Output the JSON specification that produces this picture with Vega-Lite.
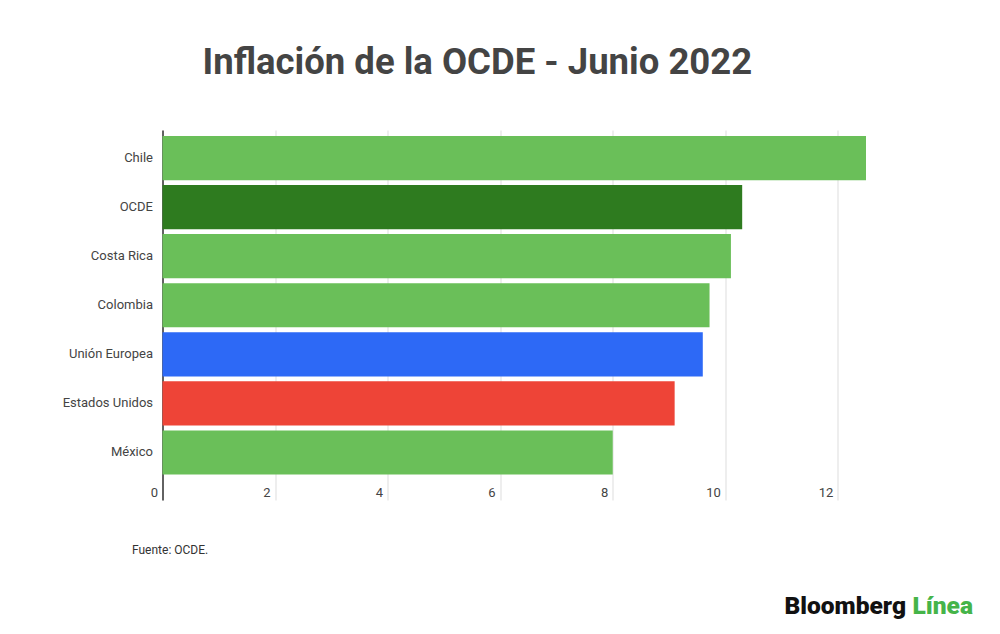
{
  "$schema": "https://vega.github.io/schema/vega-lite/v6.json",
  "width": 703.5,
  "height": 370,
  "autosize": {"type": "none"},
  "padding": {"left": 162.5, "top": 130, "right": 134, "bottom": 134},
  "background": "white",
  "config": {"view": {"stroke": null}, "font": "Roboto"},
  "title": {
    "text": "Inflación de la OCDE - Junio 2022",
    "anchor": "start",
    "frame": "group",
    "dx": 40,
    "offset": 20,
    "baseline": "alphabetic",
    "font": "Roboto",
    "fontSize": 36.5,
    "fontWeight": "bold",
    "color": "#444444"
  },
  "data": {
    "values": [
      {"pais": "Chile", "valor": 12.5},
      {"pais": "OCDE", "valor": 10.3},
      {"pais": "Costa Rica", "valor": 10.1},
      {"pais": "Colombia", "valor": 9.72},
      {"pais": "Unión Europea", "valor": 9.6},
      {"pais": "Estados Unidos", "valor": 9.1},
      {"pais": "México", "valor": 8.0}
    ]
  },
  "resolve": {"axis": {"y": "independent"}},
  "layer": [
    {
      "mark": {"type": "bar"},
      "encoding": {
        "y": {
          "field": "pais", "type": "nominal", "sort": null,
          "scale": {"paddingInner": 0.1, "paddingOuter": 0.32, "align": 0.19},
          "axis": {
            "orient": "left",
            "title": "Bloomberg",
            "titleX": 621.5, "titleY": 483, "titleAngle": 0,
            "titleAlign": "left", "titleBaseline": "alphabetic",
            "titleFont": "Roboto", "titleFontSize": 24.5, "titleFontWeight": 900, "titleColor": "#111111",
            "ticks": false, "domainColor": "#333333", "domainWidth": 1.5,
            "labelPadding": 10, "labelFontSize": 13, "labelColor": "#444444", "labelFont": "Roboto"
          }
        },
        "x": {
          "field": "valor", "type": "quantitative",
          "scale": {"domain": [0, 12.5], "nice": false},
          "axis": {
            "values": [0, 2, 4, 6, 8, 10, 12],
            "format": "d",
            "grid": true, "gridColor": "#dddddd", "ticks": false, "domain": false,
            "labelAlign": "right", "labelDx": -5, "labelOffset": -5, "labelBaseline": "alphabetic", "labelPadding": -4,
            "labelFontSize": 13, "labelColor": "#444444", "labelFont": "Roboto",
            "title": "Fuente: OCDE.",
            "titleX": -31, "titleY": 53, "titleAlign": "left", "titleBaseline": "alphabetic",
            "titleFont": "Roboto", "titleFontSize": 12, "titleFontWeight": "normal", "titleColor": "#333333"
          }
        },
        "color": {
          "field": "pais", "type": "nominal", "legend": null,
          "scale": {
            "domain": ["Chile", "OCDE", "Costa Rica", "Colombia", "Unión Europea", "Estados Unidos", "México"],
            "range": ["#6abf59", "#2e7b1f", "#6abf59", "#6abf59", "#2d69f6", "#ee4437", "#6abf59"]
          }
        }
      }
    },
    {
      "mark": {"type": "bar", "opacity": 0},
      "encoding": {
        "y": {
          "field": "pais", "type": "nominal", "sort": null,
          "axis": {
            "orient": "right",
            "title": "Línea",
            "titleX": 46, "titleY": 483, "titleAngle": 0,
            "titleAlign": "left", "titleBaseline": "alphabetic",
            "titleFont": "Roboto", "titleFontSize": 24.5, "titleFontWeight": 900, "titleColor": "#45b449",
            "ticks": false, "domain": false, "labels": false
          }
        },
        "x": {"field": "valor", "type": "quantitative"}
      }
    }
  ]
}
